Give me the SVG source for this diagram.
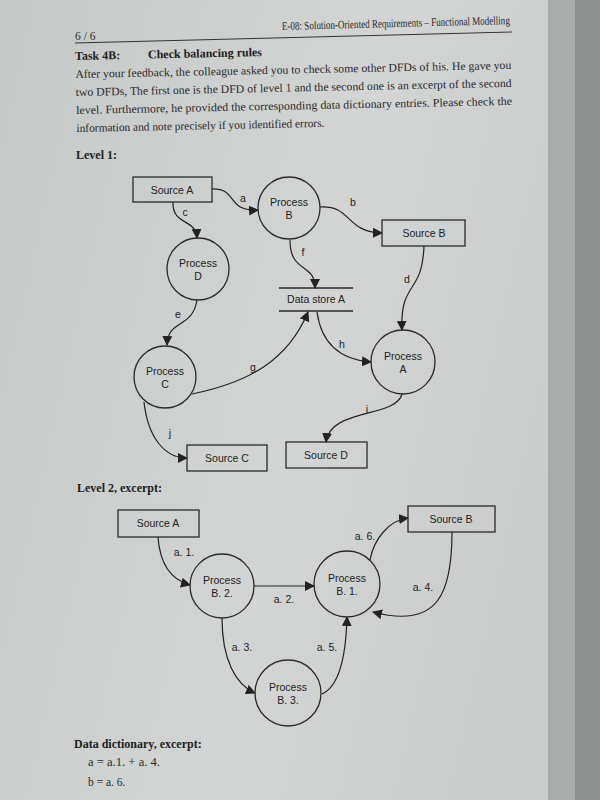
<svg xmlns="http://www.w3.org/2000/svg" width="600" height="800" viewBox="0 0 600 800">
<defs>
<linearGradient id="paper" x1="0" y1="0" x2="1" y2="0.3">
<stop offset="0" stop-color="#c4c8c7"/>
<stop offset="0.6" stop-color="#d2d5d4"/>
<stop offset="1" stop-color="#c9cccb"/>
</linearGradient>
<marker id="ah" viewBox="0 0 10 10" refX="9" refY="5" markerWidth="10" markerHeight="10" markerUnits="userSpaceOnUse" orient="auto">
<path d="M0,0 L10,5 L0,10 z" fill="#222"/>
</marker>
<style>
.body{font-family:"Liberation Serif","Times New Roman",serif;font-size:11.5px;fill:#2a2a2a}
.bold{font-family:"Liberation Serif","Times New Roman",serif;font-size:12px;font-weight:bold;fill:#222}
.lbl{font-family:"Liberation Sans",Arial,sans-serif;font-size:10.5px;fill:#222;text-anchor:middle}
.box{fill:none;stroke:#2a2a2a;stroke-width:1.3}
.proc{fill:none;stroke:#2a2a2a;stroke-width:1.3}
.flow{fill:none;stroke:#222;stroke-width:1.2;marker-end:url(#ah)}
</style>
</defs>
<rect width="600" height="800" fill="url(#paper)"/>
<rect x="548" y="0" width="52" height="800" fill="#a9acab"/>
<rect x="575" y="0" width="25" height="800" fill="#8d908f"/>

<!-- header -->
<text class="body" x="75" y="40" font-size="7.5">6 / 6</text>
<text class="body" x="282" y="30" font-size="7.5" textLength="228" lengthAdjust="spacingAndGlyphs" transform="rotate(-1.5 282 30)">E-08: Solution-Oriented Requirements – Functional Modelling</text>
<line x1="75" y1="43" x2="512" y2="32" stroke="#333" stroke-width="1"/>

<g transform="rotate(-1.2 75 60)">
<text class="bold" x="75" y="60">Task 4B:</text>
<text class="bold" x="148" y="60">Check balancing rules</text>
<text class="body" x="75" y="78" textLength="436" lengthAdjust="spacingAndGlyphs">After your feedback, the colleague asked you to check some other DFDs of his. He gave you</text>
<text class="body" x="75" y="96" textLength="436" lengthAdjust="spacingAndGlyphs">two DFDs, The first one is the DFD of level 1 and the second one is an excerpt of the second</text>
<text class="body" x="75" y="114" textLength="436" lengthAdjust="spacingAndGlyphs">level. Furthermore, he provided the corresponding data dictionary entries. Please check the</text>
<text class="body" x="75" y="132" textLength="248" lengthAdjust="spacingAndGlyphs">information and note precisely if you identified errors.</text>
</g>
<text class="bold" x="76" y="159" font-size="10.5">Level 1:</text>

<!-- Level 1 connectors -->
<g id="connectors-l1">
<path class="flow" d="M212,189 C238,188 226,212 258,210"/>
<path class="flow" d="M173,202 C172,226 196,218 197,238"/>
<path class="flow" d="M320,207 C352,205 345,232 382,233"/>
<path class="flow" d="M290,240 C290,274 315,262 315,288"/>
<path class="flow" d="M424,246 C422,296 400,280 402,330"/>
<path class="flow" d="M197,300 C192,330 168,318 167,345"/>
<path class="flow" d="M192,394 C250,382 288,360 308,312"/>
<path class="flow" d="M317,312 C322,348 345,360 371,362"/>
<path class="flow" d="M402,394 C396,418 330,408 326,442"/>
<path class="flow" d="M144,402 C148,438 165,458 187,458"/>
<text class="lbl" x="243" y="202">a</text>
<text class="lbl" x="185" y="216">c</text>
<text class="lbl" x="353" y="206">b</text>
<text class="lbl" x="303" y="256">f</text>
<text class="lbl" x="407" y="283">d</text>
<text class="lbl" x="178" y="318">e</text>
<text class="lbl" x="253" y="371">g</text>
<text class="lbl" x="342" y="348">h</text>
<text class="lbl" x="367" y="413">i</text>
<text class="lbl" x="170" y="437">j</text>
</g>

<g id="l1-sourceA"><rect class="box" x="133" y="177" width="79" height="25"/><text class="lbl" x="172" y="194">Source A</text></g>
<g id="l1-processB"><circle class="proc" cx="289" cy="208" r="31"/><text class="lbl" x="289" y="206">Process</text><text class="lbl" x="289" y="219">B</text></g>
<g id="l1-sourceB"><rect class="box" x="382" y="220" width="83" height="26"/><text class="lbl" x="424" y="237">Source B</text></g>
<g id="l1-processD"><circle class="proc" cx="198" cy="269" r="31"/><text class="lbl" x="198" y="267">Process</text><text class="lbl" x="198" y="280">D</text></g>
<g id="l1-datastoreA"><line x1="279" y1="288" x2="353" y2="288" stroke="#2a2a2a" stroke-width="1.3"/><line x1="279" y1="311" x2="353" y2="311" stroke="#2a2a2a" stroke-width="1.3"/><text class="lbl" x="316" y="303">Data store A</text></g>
<g id="l1-processC"><circle class="proc" cx="165" cy="377" r="31"/><text class="lbl" x="165" y="375">Process</text><text class="lbl" x="165" y="388">C</text></g>
<g id="l1-processA"><circle class="proc" cx="403" cy="362" r="32"/><text class="lbl" x="403" y="360">Process</text><text class="lbl" x="403" y="373">A</text></g>
<g id="l1-sourceC"><rect class="box" x="187" y="445" width="80" height="26"/><text class="lbl" x="227" y="462">Source C</text></g>
<g id="l1-sourceD"><rect class="box" x="286" y="442" width="81" height="26"/><text class="lbl" x="326" y="459">Source D</text></g>

<text class="bold" x="77" y="492" font-size="10.5">Level 2, excerpt:</text>

<!-- Level 2 connectors -->
<g id="connectors-l2">
<path class="flow" d="M158,537 C160,566 172,580 190,585"/>
<path class="flow" d="M254,586 L314,586"/>
<path class="flow" d="M370,560 C374,538 390,520 408,518"/>
<path class="flow" d="M452,532 C452,590 440,630 373,612"/>
<path class="flow" d="M222,618 C222,660 236,685 255,693"/>
<path class="flow" d="M322,694 C340,686 346,655 347,617"/>
<text class="lbl" x="184" y="556">a. 1.</text>
<text class="lbl" x="284" y="603">a. 2.</text>
<text class="lbl" x="365" y="540">a. 6.</text>
<text class="lbl" x="423" y="591">a. 4.</text>
<text class="lbl" x="242" y="651">a. 3.</text>
<text class="lbl" x="327" y="651">a. 5.</text>
</g>

<g id="l2-sourceA"><rect class="box" x="118" y="510" width="81" height="27"/><text class="lbl" x="158" y="527">Source A</text></g>
<g id="l2-sourceB"><rect class="box" x="408" y="506" width="87" height="26"/><text class="lbl" x="451" y="523">Source B</text></g>
<g id="l2-processB2"><circle class="proc" cx="222" cy="586" r="32"/><text class="lbl" x="222" y="584">Process</text><text class="lbl" x="222" y="597">B. 2.</text></g>
<g id="l2-processB1"><circle class="proc" cx="347" cy="584" r="33"/><text class="lbl" x="347" y="582">Process</text><text class="lbl" x="347" y="595">B. 1.</text></g>
<g id="l2-processB3"><circle class="proc" cx="288" cy="693" r="33"/><text class="lbl" x="288" y="691">Process</text><text class="lbl" x="288" y="704">B. 3.</text></g>

<text class="bold" x="74" y="748" font-size="11.5">Data dictionary, excerpt:</text>
<text class="body" x="88" y="766" font-size="10.5" textLength="72" lengthAdjust="spacingAndGlyphs">a = a.1. + a. 4.</text>
<text class="body" x="88" y="786" font-size="10.5">b = a. 6.</text>
</svg>
